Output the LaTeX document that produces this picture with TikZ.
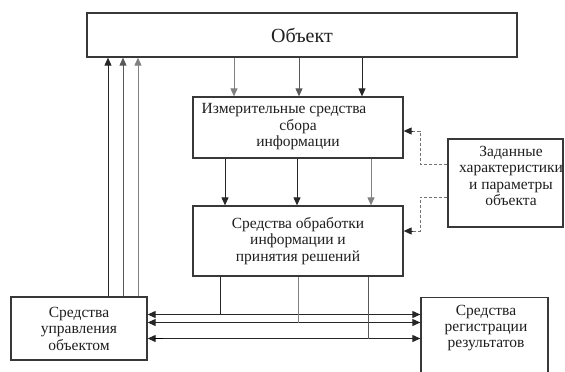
\documentclass[tikz,border=0pt]{standalone}
\usepackage{fontspec}
\setmainfont{Liberation Serif}
\usetikzlibrary{arrows.meta}
\definecolor{boxc}{gray}{0.22}
\definecolor{darkl}{gray}{0.15}
\definecolor{midl}{gray}{0.35}
\definecolor{lightl}{gray}{0.5}
\definecolor{dashc}{gray}{0.45}
\definecolor{txtc}{gray}{0.12}
\tikzset{
  box/.style={draw=boxc, line width=1.3pt, rectangle, inner sep=0pt, align=center,
    text=txtc, font=\fontsize{15.5}{16.5}\selectfont},
  lbl/.style={text=txtc, align=center, inner sep=0pt},
  conn/.style={line width=1pt, -{Triangle[length=8pt,width=7pt]}},
  bconn/.style={line width=1pt, {Triangle[length=8pt,width=7pt]}-{Triangle[length=8pt,width=7pt]}},
  plain/.style={line width=1pt},
  dconn/.style={draw=dashc, line width=1pt, dash pattern=on 3pt off 2pt},
  tip/.style={-{Triangle[length=8pt,width=7pt]}},
}
\begin{document}
\begin{tikzpicture}[x=1pt,y=-1pt]
\useasboundingbox[fill=white] (0,0) rectangle (565,372);
% boxes
\node[box, minimum width=430pt, minimum height=44pt, font=\fontsize{20}{22}\selectfont] (obj) at (302,35) {Объект};
\node[box, minimum width=210pt, minimum height=61pt] (meas) at (298,127.5) {};
\node[lbl, font=\fontsize{15.5}{16.5}\selectfont] (meastxt) at (298,127) {Измерительные средства\hspace*{28pt}\\сбора\\информации};
\node[box, minimum width=210pt, minimum height=70pt] (proc) at (298,241) {Средства обработки\\информации и\\принятия решений};
\node[box, minimum width=115pt, minimum height=88pt] (params) at (505.5,183) {};
\node[lbl, font=\fontsize{15.5}{16.3}\selectfont] (paramstxt) at (511,176) {Заданные\\характеристики\\и параметры\\объекта};
\node[box, minimum width=136pt, minimum height=63pt] (ctrl) at (79,328.5) {Средства\\управления\\объектом};
\node[box, minimum width=127pt, minimum height=84pt, anchor=north] (reg) at (484.5,297) {};
\node[lbl, font=\fontsize{15.5}{16}\selectfont] (regtxt) at (486,328) {Средства\\регистрации\\результатов};
% object -> measuring
\draw[conn, draw=lightl] (obj.south -| 234,0) -- (meas.north -| 234,0);
\draw[conn, draw=midl] (obj.south -| 299,0) -- (meas.north -| 299,0);
\draw[conn, draw=darkl] (obj.south -| 362,0) -- (meas.north -| 362,0);
% measuring -> processing
\draw[conn, draw=darkl] (meas.south -| 225,0) -- (proc.north -| 225,0);
\draw[conn, draw=darkl] (meas.south -| 297,0) -- (proc.north -| 297,0);
\draw[conn, draw=lightl] (meas.south -| 371,0) -- (proc.north -| 371,0);
% control -> object
\draw[conn, draw=darkl] (ctrl.north -| 108,0) -- (obj.south -| 108,0);
\draw[conn, draw=midl] (ctrl.north -| 123,0) -- (obj.south -| 123,0);
\draw[conn, draw=lightl] (ctrl.north -| 138,0) -- (obj.south -| 138,0);
% horizontal bidirectional
\draw[bconn, draw=darkl] (ctrl.east |- 0,314.5) -- (reg.west |- 0,314.5);
\draw[bconn, draw=darkl] (ctrl.east |- 0,322.5) -- (reg.west |- 0,322.5);
\draw[bconn, draw=darkl] (ctrl.east |- 0,338.5) -- (reg.west |- 0,338.5);
\draw[line width=1.8pt, draw=black] ([xshift=6pt]ctrl.east |- 0,338.5) -- ([xshift=15pt]ctrl.east |- 0,338.5);
% processing down to lines
\coordinate (j1) at (220.5,314.5);
\coordinate (j2) at (298,322.5);
\coordinate (j3) at (368,338.5);
\draw[plain, draw=darkl] (proc.south -| j1) -- (j1);
\draw[plain, draw=lightl] (proc.south -| j2) -- (j2);
\draw[plain, draw=midl] (proc.south -| j3) -- (j3);
% dashed from params
\coordinate (d1) at (420,164);
\coordinate (d1b) at (420,131);
\coordinate (d2) at (420,197);
\coordinate (d2b) at (420,231);
\draw[dconn] (params.west |- d1) -- (d1) -- (d1b) -- ([xshift=7pt]meas.east |- d1b);
\draw[dconn] (params.west |- d2) -- (d2) -- (d2b) -- ([xshift=7pt]proc.east |- d2b);
\draw[tip, line width=1pt, draw=darkl] ([xshift=9pt]meas.east |- d1b) -- (meas.east |- d1b);
\draw[tip, line width=1pt, draw=darkl] ([xshift=9pt]proc.east |- d2b) -- (proc.east |- d2b);
\end{tikzpicture}
\end{document}
